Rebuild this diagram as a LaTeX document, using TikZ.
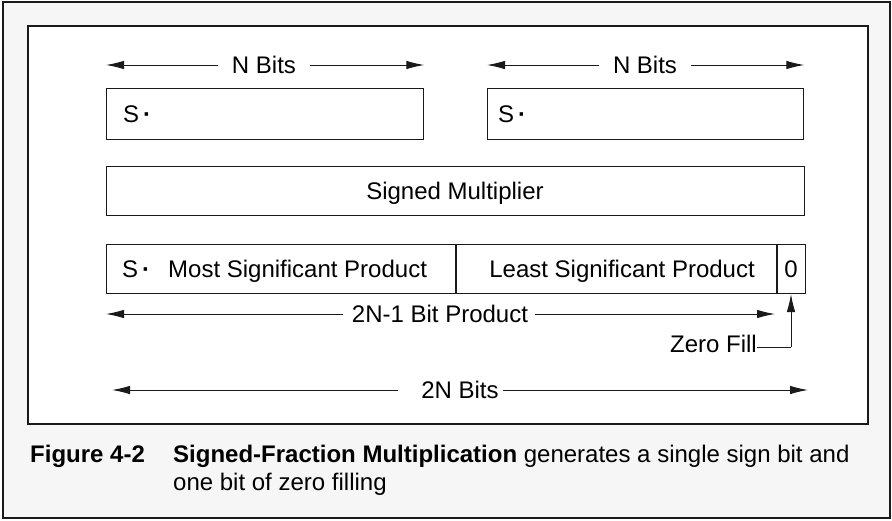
\documentclass[tikz,border=0pt]{standalone}
\usepackage{fontspec}
\setmainfont{Liberation Sans}
\usetikzlibrary{arrows.meta}
\definecolor{framegray}{HTML}{F6F6F6}
\definecolor{ink}{HTML}{1A1A1A}
\tikzset{
  boxline/.style={draw=ink, line width=1.3pt},
  arr/.style={draw=ink, line width=1pt, -{Latex[length=18pt,width=8.5pt]}},
  plain/.style={draw=ink, line width=1pt},
  txt/.style={inner sep=0pt, anchor=base, font=\fontsize{24}{28}\selectfont, text=black},
  txtw/.style={txt, anchor=base west},
  txte/.style={txt, anchor=base east},
}
\newcommand{\sdot}{S\,\textbf{·}}
\begin{document}
\begin{tikzpicture}[x=1pt,y=-1pt]
\useasboundingbox (0,0) rectangle (892,520);
% frames
\draw[fill=framegray, draw=ink, line width=2pt] (3,2) rectangle (890,518);
\draw[fill=white, boxline] (28,26) rectangle (868,424);

% top boxes
\node[boxline, rectangle, minimum width=317pt, minimum height=51pt, anchor=north west, inner sep=0pt] (ba) at (106,88) {};
\node[boxline, rectangle, minimum width=316pt, minimum height=51pt, anchor=north west, inner sep=0pt] (bb) at (487,88) {};
\node[txtw] (sa) at (123,122) {\sdot};
\node[txtw] (sb) at (498,122) {\sdot};

% N Bits arrows
\node[txt] (nba) at (264,73) {N Bits};
\node[txt] (nbb) at (645,73) {N Bits};
\coordinate (nbaL) at (218,65); \coordinate (nbaR) at (310,65);
\coordinate (nbbL) at (599,65); \coordinate (nbbR) at (691,65);
\draw[arr] (nbaL) -- (ba.north west |- nbaL);
\draw[arr] (nbaR) -- (ba.north east |- nbaR);
\draw[arr] (nbbL) -- (bb.north west |- nbbL);
\draw[arr] (nbbR) -- (bb.north east |- nbbR);

% multiplier
\node[boxline, rectangle, minimum width=698pt, minimum height=49pt, anchor=north west, inner sep=0pt] (mul) at (106,166) {};
\node[txt] (mult) at (455,199) {Signed Multiplier};

% product
\node[boxline, rectangle, minimum width=699pt, minimum height=49pt, anchor=north west, inner sep=0pt] (prod) at (106,244) {};
\coordinate (d1t) at (456,244); \coordinate (d1b) at (456,293);
\coordinate (d2t) at (777,244); \coordinate (d2b) at (777,293);
\draw[boxline] (d1t) -- (d1b);
\draw[boxline] (d2t) -- (d2b);
\node[txtw] (sp) at (122,277) {\sdot};
\node[txtw] (msp) at (168,277) {Most Significant Product};
\node[txte] (lsp) at (755,277) {Least Significant Product};
\node[txt] (zero) at (791,277) {0};

% 2N-1 bit product
\node[txt] (p21) at (440,322) {2N-1 Bit Product};
\coordinate (p21L) at (343,314); \coordinate (p21R) at (535,314);
\coordinate (p21Lt) at (106,314); \coordinate (p21Rt) at (775,314);
\draw[arr] (p21L) -- (p21Lt);
\draw[arr] (p21R) -- (p21Rt);

% zero fill
\node[txte] (zf) at (757,352) {Zero Fill};
\coordinate (zfc) at (791,347);
\coordinate (zft) at (791,294);
\draw[plain] (zf.east |- zfc) -- (zfc);
\draw[arr] (zfc) -- (zft);

% 2N bits
\node[txt] (n2) at (460,398) {2N Bits};
\coordinate (n2L) at (398,390); \coordinate (n2R) at (503,390);
\coordinate (n2Lt) at (112,390); \coordinate (n2Rt) at (808,390);
\draw[arr] (n2L) -- (n2Lt);
\draw[arr] (n2R) -- (n2Rt);

% caption
\node[txtw] (fig) at (30,462) {\bfseries Figure 4-2};
\node[txtw] (cap1) at (173,462) {\textbf{Signed-Fraction Multiplication} generates a single sign bit and};
\node[txtw] (cap2) at (173,490) {one bit of zero filling};
\end{tikzpicture}
\end{document}
